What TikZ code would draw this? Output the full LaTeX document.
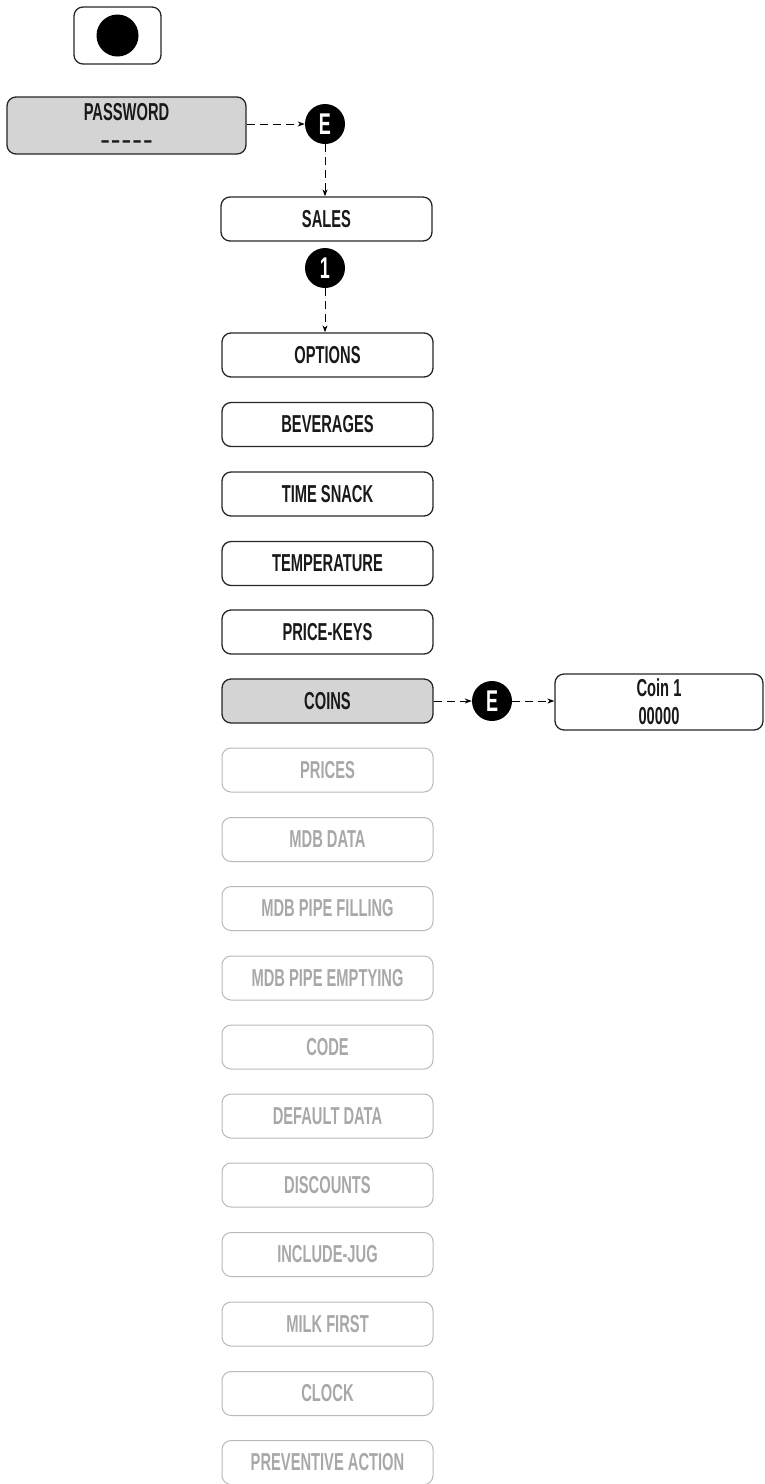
\documentclass[tikz,border=0pt]{standalone}
\usepackage{fontspec}
\setmainfont{Liberation Sans}[FakeStretch=0.6]
\usetikzlibrary{arrows.meta}
\definecolor{boxgray}{RGB}{212,212,212}
\definecolor{faded}{RGB}{168,168,168}
\definecolor{fadedline}{RGB}{185,185,185}
\begin{document}
\begin{tikzpicture}[x=1pt,y=-1pt,
  menu/.style={draw=black!85, line width=1.3pt, rounded corners=9pt,
    minimum width=211pt, minimum height=44pt, inner sep=0pt,
    font=\bfseries\fontsize{24.5}{28}\selectfont, text=black!90},
  sel/.style={menu, fill=boxgray},
  dim/.style={menu, draw=fadedline, line width=1pt, text=faded},
  key/.style={circle, fill=black, minimum size=40pt, inner sep=0pt,
    text=white, font=\bfseries\fontsize{30}{30}\selectfont},
  link/.style={dashed, dash pattern=on 8pt off 5pt, line width=1pt,
    -{Stealth[length=7pt,width=5pt]}}]
\useasboundingbox (0,0) rectangle (764,1484);
% power button
\node[menu, minimum width=87pt, minimum height=57pt] (power) at (117.5,35.5) {};
\node[circle, fill=black, minimum size=42pt, inner sep=0pt] (dot) at (power.center) {};
% password
\node[sel, minimum width=239pt, minimum height=57pt, align=center] (pwd) at (126.5,125.5) {PASSWORD\\–\kern2.5pt–\kern2.5pt–\kern2.5pt–\kern2.5pt–};
\node[key] (e1) at (325,124) {E};
\node[menu] (sales) at (326.5,219) {SALES};
\node[key] (k1) at (325,268) {1};
% menu list
\node[menu] (opt)  at (327.5,355) {OPTIONS};
\node[menu] (bev)  at (327.5,424.5) {BEVERAGES};
\node[menu] (snack) at (327.5,494) {TIME SNACK};
\node[menu] (temp) at (327.5,563.5) {TEMPERATURE};
\node[menu] (pkeys) at (327.5,632) {PRICE-KEYS};
\node[sel]  (coins) at (327.5,701) {COINS};
\node[dim] (prices) at (327.5,770) {PRICES};
\node[dim] (mdb) at (327.5,839.5) {MDB DATA};
\node[dim] (fill) at (327.5,908.5) {MDB PIPE FILLING};
\node[dim] (empty) at (327.5,978) {MDB PIPE EMPTYING};
\node[dim] (code) at (327.5,1047) {CODE};
\node[dim] (def) at (327.5,1116) {DEFAULT DATA};
\node[dim] (disc) at (327.5,1185) {DISCOUNTS};
\node[dim] (jug) at (327.5,1254.5) {INCLUDE-JUG};
\node[dim] (milk) at (327.5,1324) {MILK FIRST};
\node[dim] (clock) at (327.5,1393.5) {CLOCK};
\node[dim] (prev) at (327.5,1462.5) {PREVENTIVE ACTION};
% coin branch
\node[key] (e2) at (492,701) {E};
\node[menu, minimum width=208pt, minimum height=56pt, align=center] (coin) at (659,702) {Coin 1\\00000};
% connectors
\draw[link] (pwd.east |- e1) -- (e1.west);
\draw[link] (e1.south) -- (sales.north -| e1);
\draw[link] (k1.south) -- (opt.north -| k1);
\draw[link] (coins.east) -- (e2.west);
\draw[link] (e2.east) -- (coin.west |- e2);
\end{tikzpicture}
\end{document}
